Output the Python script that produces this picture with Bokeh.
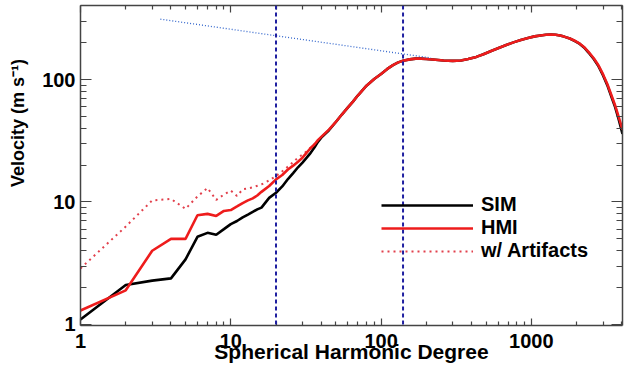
from bokeh.plotting import figure
from bokeh.models import (LogAxis, FixedTicker, BasicTickFormatter, CustomJSTickFormatter,
                          Span, Legend, LegendItem)
from bokeh.embed import file_html
from bokeh.resources import INLINE

# ---------------- data ----------------
ell_sim = [1, 2, 3, 4, 5, 6, 7, 8, 9, 10, 11, 12, 13, 14, 15, 16, 18, 20, 22, 24, 26, 28,
           30, 32, 34, 36, 38, 40, 45, 50, 55, 60, 65, 70, 80, 90, 100, 110, 120, 130, 140,
           155, 170, 185, 200, 230, 260, 300, 340, 380, 430, 480, 540, 600, 680, 760, 850,
           950, 1050, 1150, 1250, 1350, 1450, 1550, 1650, 1800, 1950, 2100, 2250, 2400,
           2600, 2800, 3000, 3200, 3400, 3600, 3800, 4040]
v_sim = [1.1, 2.1, 2.28, 2.38, 3.4, 5.2, 5.6, 5.4, 6.0, 6.6, 7.0, 7.5, 7.9, 8.3, 8.7, 9.0,
         10.8, 11.9, 13.4, 15.4, 17.2, 19.2, 21.0, 23.0, 25.2, 27.8, 31.0, 33.5, 38.5, 45,
         52, 59, 66, 74, 89, 101, 111, 122, 131, 138, 142, 146, 148, 148, 147, 145, 143,
         142, 143, 147, 153, 161, 171, 180, 191, 201, 210, 218, 225, 229, 232, 233, 232,
         229, 224, 216, 206, 195, 182, 166, 147, 128, 108, 90, 73, 60, 48, 36]

ell_hmi = [1, 2, 3, 4, 5, 6, 7, 8, 9, 10, 11, 12, 13, 14, 15, 16, 18, 20, 22, 24, 26, 28,
           30, 32, 34, 36, 38, 40, 45, 50, 55, 60, 65, 70, 80, 90, 100, 110, 120, 130, 140,
           155, 170, 185, 200, 230, 260, 300, 340, 380, 430, 480, 540, 600, 680, 760, 850,
           950, 1050, 1150, 1250, 1350, 1450, 1550, 1650, 1800, 1950, 2100, 2250, 2400,
           2600, 2800, 3000, 3200, 3400, 3600, 3800, 4040]
v_hmi = [1.3, 1.9, 4.0, 5.0, 5.0, 7.8, 8.0, 7.7, 8.45, 8.6, 9.2, 9.8, 10.3, 10.7, 11.3,
         12.1, 13.5, 15.3, 16.6, 18.4, 19.8, 21.3, 23.0, 25.3, 27.6, 29.5, 32.0, 34.0, 39,
         45, 52, 59, 66, 74, 89, 101, 111, 122, 131, 138, 142, 146, 148, 148, 147, 145,
         143, 142, 143, 147, 153, 161, 171, 180, 191, 201, 210, 218, 225, 229, 232, 233,
         232, 229, 224, 216, 207, 196, 183, 168, 149, 130, 110, 92, 75, 62, 50, 39]

ell_art = [1, 2, 3, 4, 5, 6, 7, 8, 9, 10, 11, 12, 13, 14, 16, 18, 20, 22, 25, 28, 30, 32,
           34, 36, 38, 40]
v_art = [2.87, 6.3, 10.3, 10.6, 8.8, 11.1, 13.0, 10.4, 11.5, 12.4, 11.2, 12.7, 12.9, 13.2,
         13.9, 15.0, 16.3, 17.8, 20.3, 23.0, 24.4, 26.0, 27.8, 29.6, 32.0, 34.0]

ref_ell = [3.4, 215]          # dotted blue reference line
ref_v = [311, 150]

cut_ell = [20, 140]           # vertical dashed lines

x_major = [1, 10, 100, 1000]
y_major = [1, 10, 100]
series_labels = ["SIM", "HMI", "w/ Artifacts"]
x_title = "Spherical Harmonic Degree"
y_title = "Velocity (m s\u207b\u00b9)"

# ---------------- figure ----------------
FONT = "Liberation Sans"
p = figure(width=627, height=377, x_axis_type="log", y_axis_type="log",
           x_range=(1, 4040), y_range=(0.981, 402),
           output_backend="svg", toolbar_location=None,
           min_border_left=80, min_border_right=5, min_border_top=5, min_border_bottom=52)
p.outline_line_color = None
p.grid.visible = False
p.background_fill_color = "white"
p.border_fill_color = "white"

x_minor = [m * 10 ** e for e in range(0, 4) for m in range(2, 10)]
y_minor = [m * 10 ** e for e in range(0, 3) for m in range(2, 10)]


def style(ax, major_in, minor_in):
    ax.major_tick_in = major_in
    ax.major_tick_out = 0
    ax.minor_tick_in = minor_in
    ax.minor_tick_out = 0
    ax.axis_line_color = "#444444"
    ax.axis_line_width = 1.5
    ax.major_tick_line_color = "#444444"
    ax.minor_tick_line_color = "#444444"
    ax.major_tick_line_width = 1.2
    ax.minor_tick_line_width = 1.2
    ax.major_label_text_font = FONT
    ax.major_label_text_font_style = "bold"
    ax.major_label_text_font_size = "20px"
    ax.major_label_text_color = "black"
    ax.axis_label_text_font = FONT
    ax.axis_label_text_font_style = "bold"
    ax.axis_label_text_color = "black"


xa = p.xaxis[0]
xa.ticker = FixedTicker(ticks=x_major, minor_ticks=x_minor)
xa.formatter = BasicTickFormatter(use_scientific=False)
style(xa, 7, 4)
xa.major_label_standoff = 8
xa.axis_label = x_title
xa.axis_label_text_font_size = "21px"
xa.axis_label_standoff = -11

ya = p.yaxis[0]
ya.ticker = FixedTicker(ticks=y_major, minor_ticks=y_minor)
ya.formatter = BasicTickFormatter(use_scientific=False)
style(ya, 11, 6)
ya.major_label_standoff = 5
# leading no-break spaces lift the title above the axis centre, as in the reference
ya.axis_label = "\u00a0" * 17 + y_title
ya.axis_label_text_font_size = "18px"
ya.axis_label_standoff = 11

blank = CustomJSTickFormatter(code="return ''")
top = LogAxis(ticker=FixedTicker(ticks=x_major, minor_ticks=x_minor), formatter=blank)
style(top, 7, 4)
top.major_label_text_font_size = "0px"
top.major_label_standoff = 0
p.add_layout(top, "above")
right = LogAxis(ticker=FixedTicker(ticks=y_major, minor_ticks=y_minor), formatter=blank)
style(right, 11, 6)
right.major_label_text_font_size = "0px"
right.major_label_standoff = 0
p.add_layout(right, "right")

# ---------------- glyphs ----------------
r_art = p.line(ell_art, v_art, line_color="#e2404c", line_width=2, line_dash="2 4")
r_sim = p.line(ell_sim, v_sim, line_color="black", line_width=2.6)
r_hmi = p.line(ell_hmi, v_hmi, line_color="#ee1c1c", line_width=2.6)
p.line(ref_ell, ref_v, line_color="#3366cc", line_width=1.3, line_dash="1 2")

for c in cut_ell:
    p.add_layout(Span(location=c, dimension="height", line_color="#1f1fa0",
                      line_width=2, line_dash="4 3"))

legend = Legend(items=[LegendItem(label=series_labels[0], renderers=[r_sim]),
                       LegendItem(label=series_labels[1], renderers=[r_hmi]),
                       LegendItem(label=series_labels[2], renderers=[r_art])],
                location=(301, 63), glyph_width=92, glyph_height=22, spacing=0,
                padding=0, margin=0, label_standoff=8, border_line_color=None,
                background_fill_alpha=0, label_text_font=FONT,
                label_text_font_style="bold", label_text_font_size="20px",
                label_text_color="black", label_height=22)
p.add_layout(legend)

open("out.html", "w").write(file_html(p, INLINE))
